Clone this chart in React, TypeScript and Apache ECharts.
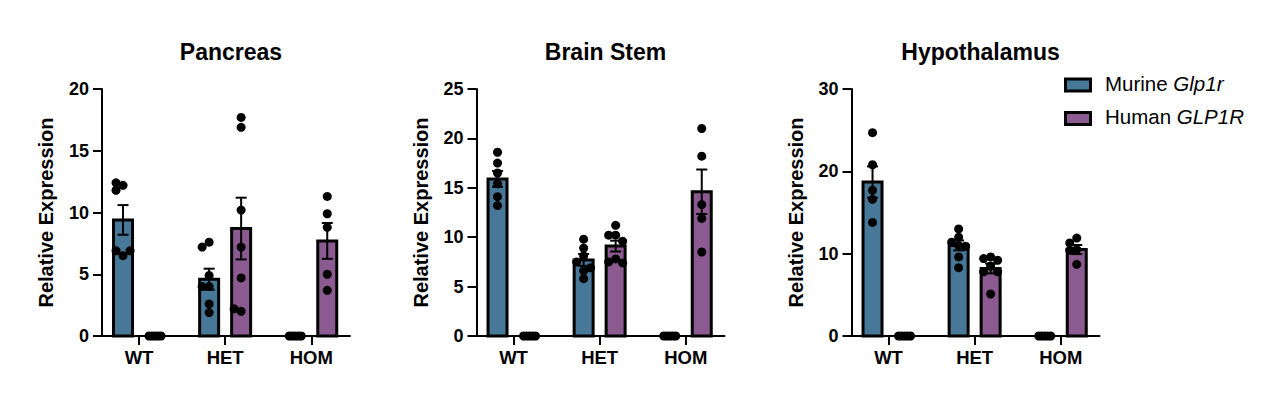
import React, { useEffect, useRef } from "react";
import * as echarts from "echarts";

// ---------- data ----------
const CATEGORIES = ["WT", "HET", "HOM"];
const PANEL_TITLES = ["Pancreas", "Brain Stem", "Hypothalamus"];
const Y_MAX = [20, 25, 30];
const Y_INTERVAL = [5, 5, 10];
const SERIES_NAMES = ["Murine Glp1r", "Human GLP1R"];

// bar heights (mean) and SEM per genotype
const pancreasMurineMean = [9.4, 4.6, 0];
const pancreasMurineSem = [1.2, 0.85, 0];
const pancreasHumanMean = [0, 8.7, 7.7];
const pancreasHumanSem = [0, 2.5, 1.45];

const brainMurineMean = [15.9, 7.7, 0];
const brainMurineSem = [0.8, 0.6, 0];
const brainHumanMean = [0, 9.1, 14.6];
const brainHumanSem = [0, 0.55, 2.25];

const hypoMurineMean = [18.7, 11.0, 0];
const hypoMurineSem = [1.9, 0.6, 0];
const hypoHumanMean = [0, 8.2, 10.5];
const hypoHumanSem = [0, 0.6, 0.55];

// individual points
const pancreasMurineDots = [
  [12.2, 11.8, 12.4, 6.5, 6.9, 6.9],
  [7.6, 7.2, 4.0, 4.0, 2.6, 1.9, 4.9],
  [0, 0, 0, 0, 0],
];
const pancreasHumanDots = [
  [0, 0, 0, 0, 0],
  [17.7, 16.9, 10.2, 7.2, 4.7, 2.0, 2.2],
  [11.3, 9.9, 8.8, 5.0, 3.7],
];
const brainMurineDots = [
  [18.6, 17.5, 16.5, 15.4, 14.1, 13.2],
  [9.8, 8.9, 8.1, 7.5, 6.6, 6.9, 5.8],
  [0, 0, 0, 0, 0],
];
const brainHumanDots = [
  [0, 0, 0, 0, 0],
  [11.2, 10.2, 10.2, 9.6, 7.8, 7.5, 7.4],
  [21.0, 18.2, 13.3, 11.9, 8.5],
];
const hypoMurineDots = [
  [24.7, 20.8, 17.7, 16.6, 13.8],
  [13.0, 12.0, 11.4, 11.0, 10.9, 9.6, 8.3],
  [0, 0, 0, 0, 0],
];
const hypoHumanDots = [
  [0, 0, 0, 0, 0],
  [9.6, 9.4, 9.2, 8.5, 7.8, 7.8, 5.1],
  [11.9, 11.3, 10.5, 10.4, 8.7],
];

const PANELS = [
  {
    murineMean: pancreasMurineMean, murineSem: pancreasMurineSem, murineDots: pancreasMurineDots,
    humanMean: pancreasHumanMean, humanSem: pancreasHumanSem, humanDots: pancreasHumanDots,
  },
  {
    murineMean: brainMurineMean, murineSem: brainMurineSem, murineDots: brainMurineDots,
    humanMean: brainHumanMean, humanSem: brainHumanSem, humanDots: brainHumanDots,
  },
  {
    murineMean: hypoMurineMean, murineSem: hypoMurineSem, murineDots: hypoMurineDots,
    humanMean: hypoHumanMean, humanSem: hypoHumanSem, humanDots: hypoHumanDots,
  },
];

// ---------- style / layout ----------
const BLUE = "#487898";
const PURPLE = "#8b5a90";
const FONT = "'Liberation Sans', Arial, Helvetica, sans-serif";
const GRID_LEFT = [102, 476.5, 851.5];
const GRID_TOP = 89;
const GRID_W = 248;
const GRID_H = 247;
const X_MIN = -0.43;
const X_MAX = 2.45;
const PX_PER_X = GRID_W / (X_MAX - X_MIN);
const BAR_OFFSET_PX = 16;
const BAR_W = 19;
const DOT = 9;
const CAP_W = 11;

// simple beeswarm: offsets in pixels
function swarm(values: number[], pxPerY: number): number[] {
  if (values.every((v) => v === 0)) {
    const n = values.length;
    return values.map((_, i) => (n > 1 ? -6 + (12 * i) / (n - 1) : 0));
  }
  const placed: { x: number; y: number }[] = [];
  const step = 7;
  const cands = [0, -1, 1, -2, 2, -3, 3];
  return values.map((v) => {
    const y = v * pxPerY;
    let chosen = 0;
    for (const k of cands) {
      const x = k * step;
      if (placed.every((p) => Math.hypot(p.x - x, p.y - y) >= 7)) {
        chosen = x;
        break;
      }
    }
    placed.push({ x: chosen, y });
    return chosen;
  });
}

function buildOption() {
  const grid: any[] = [];
  const xAxis: any[] = [];
  const yAxis: any[] = [];
  const title: any[] = [];
  const series: any[] = [];

  PANELS.forEach((p, pi) => {
    grid.push({ left: GRID_LEFT[pi], top: GRID_TOP, width: GRID_W, height: GRID_H, containLabel: false });
    title.push({
      text: PANEL_TITLES[pi],
      left: GRID_LEFT[pi] + GRID_W / 2,
      top: 35,
      textAlign: "center",
      textStyle: { fontFamily: FONT, fontWeight: "bold", fontSize: 23, color: "#000" },
    });
    xAxis.push({
      type: "value",
      gridIndex: pi,
      min: X_MIN,
      max: X_MAX,
      axisLine: { show: true, onZero: false, lineStyle: { color: "#000", width: 2 } },
      axisTick: { show: true, customValues: [0, 1, 2], length: 9, lineStyle: { color: "#000", width: 2 } },
      axisLabel: {
        customValues: [0, 1, 2],
        formatter: (v: number) => CATEGORIES[Math.round(v)] ?? "",
        margin: 12,
        fontFamily: FONT,
        fontWeight: "bold",
        fontSize: 18.5,
        color: "#000",
      },
      splitLine: { show: false },
    });
    yAxis.push({
      type: "value",
      gridIndex: pi,
      min: 0,
      max: Y_MAX[pi],
      interval: Y_INTERVAL[pi],
      name: "Relative Expression",
      nameLocation: "middle",
      nameGap: 46,
      nameTextStyle: { fontFamily: FONT, fontWeight: "bold", fontSize: 20, color: "#000" },
      axisLine: { show: true, onZero: false, lineStyle: { color: "#000", width: 2 } },
      axisTick: { show: true, length: 9, lineStyle: { color: "#000", width: 2 } },
      axisLabel: { margin: 13, fontFamily: FONT, fontWeight: "bold", fontSize: 18, color: "#000" },
      splitLine: { show: false },
    });

    const pxPerY = GRID_H / Y_MAX[pi];
    const groups = [
      { mean: p.murineMean, sem: p.murineSem, dots: p.murineDots, color: BLUE, off: -BAR_OFFSET_PX, name: SERIES_NAMES[0] },
      { mean: p.humanMean, sem: p.humanSem, dots: p.humanDots, color: PURPLE, off: BAR_OFFSET_PX, name: SERIES_NAMES[1] },
    ];

    groups.forEach((g) => {
      const dx = g.off / PX_PER_X;
      const barData = g.mean
        .map((m, ci) => [ci + dx, m])
        .filter((d) => d[1] > 0);
      series.push({
        type: "custom",
        name: g.name,
        xAxisIndex: pi,
        yAxisIndex: pi,
        z: 2,
        data: barData,
        encode: { x: 0, y: 1 },
        renderItem: (params: any, api: any) => {
          const x = api.value(0);
          const v = api.value(1);
          const p0 = api.coord([x, 0]);
          const p1 = api.coord([x, v]);
          return {
            type: "rect",
            shape: { x: p0[0] - BAR_W / 2, y: p1[1], width: BAR_W, height: p0[1] - p1[1] },
            style: { fill: g.color, stroke: "#000", lineWidth: 3 },
          };
        },
      });
      const errData = g.mean
        .map((m, ci) => [ci + dx, m - g.sem[ci], m + g.sem[ci]])
        .filter((d, ci) => g.mean[ci] > 0);
      series.push({
        type: "custom",
        xAxisIndex: pi,
        yAxisIndex: pi,
        z: 3,
        data: errData,
        encode: { x: 0, y: [1, 2] },
        renderItem: (params: any, api: any) => {
          const x = api.value(0);
          const lo = api.coord([x, api.value(1)]);
          const hi = api.coord([x, api.value(2)]);
          const st = { stroke: "#000", lineWidth: 2 };
          return {
            type: "group",
            children: [
              { type: "line", shape: { x1: lo[0], y1: lo[1], x2: hi[0], y2: hi[1] }, style: st },
              { type: "line", shape: { x1: hi[0] - CAP_W / 2, y1: hi[1], x2: hi[0] + CAP_W / 2, y2: hi[1] }, style: st },
              { type: "line", shape: { x1: lo[0] - CAP_W / 2, y1: lo[1], x2: lo[0] + CAP_W / 2, y2: lo[1] }, style: st },
            ],
          };
        },
      });
      const dotData: number[][] = [];
      g.dots.forEach((vals, ci) => {
        const offs = swarm(vals, pxPerY);
        vals.forEach((v, i) => dotData.push([ci + dx + offs[i] / PX_PER_X, v]));
      });
      series.push({
        type: "scatter",
        xAxisIndex: pi,
        yAxisIndex: pi,
        z: 4,
        symbol: "circle",
        symbolSize: DOT,
        itemStyle: { color: "#000", opacity: 1 },
        data: dotData,
        clip: false,
      });
    });
  });

  const LEG_X = 1064;
  const LEG_Y = [77.5, 111];
  const graphic: any[] = [];
  [BLUE, PURPLE].forEach((c, i) => {
    graphic.push({
      type: "rect",
      left: LEG_X,
      top: LEG_Y[i],
      shape: { width: 25, height: 12 },
      style: { fill: c, stroke: "#000", lineWidth: 3 },
    });
  });
  const legendTexts = [
    "{n|Murine }{i|Glp1r}",
    "{n|Human }{i|GLP1R}",
  ];
  legendTexts.forEach((t, i) => {
    graphic.push({
      type: "text",
      left: 1105,
      top: LEG_Y[i] - 5,
      style: {
        text: t,
        fontFamily: FONT,
        fontSize: 20.5,
        fill: "#000",
        rich: {
          n: { fontFamily: FONT, fontSize: 20.5, fill: "#000" },
          i: { fontFamily: FONT, fontSize: 20.5, fontStyle: "italic", fill: "#000" },
        },
      },
    });
  });

  return {
    animation: false,
    backgroundColor: "#fff",
    title,
    grid,
    xAxis,
    yAxis,
    series,
    graphic,
  };
}

export default function App() {
  const ref = useRef<HTMLDivElement>(null);
  useEffect(() => {
    document.body.style.margin = "0";
    const chart = echarts.init(ref.current as HTMLDivElement, null, { renderer: "svg" });
    chart.setOption(buildOption() as any);
    return () => chart.dispose();
  }, []);
  return <div ref={ref} style={{ width: 1280, height: 404 }} />;
}
